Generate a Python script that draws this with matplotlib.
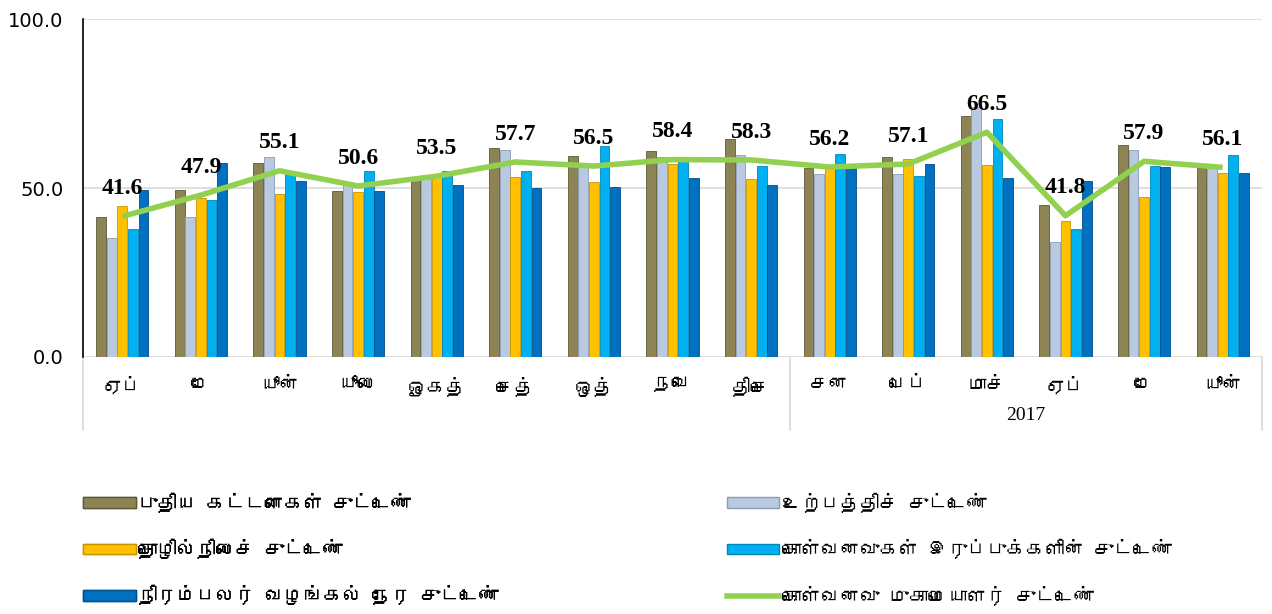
import matplotlib
matplotlib.use("Agg")
import matplotlib.pyplot as plt
from matplotlib import font_manager
from matplotlib.ft2font import FT2Font
from matplotlib.lines import Line2D
from matplotlib.patches import Patch
import numpy as np

months = ["ஏப்", "மே", "யூன்", "யூலை", "ஓகத்", "செத்", "ஒத்", "நவெ", "திசெ",
          "சன", "பெப்", "மாச்", "ஏப்", "மே", "யூன்"]
year_label = "2017"

new_orders = [41.5, 49.4, 57.3, 49.2, 53.3, 61.9, 59.4, 60.9, 64.4, 55.8, 59.3, 71.3, 44.9, 62.7, 55.8]
output = [35.1, 41.3, 59.1, 51.4, 53.3, 61.2, 57.3, 59.3, 59.7, 54.1, 54.0, 74.1, 34.1, 61.2, 55.8]
employment = [44.8, 46.9, 48.2, 48.7, 54.2, 53.3, 51.9, 57.1, 52.8, 55.8, 58.5, 56.7, 40.2, 47.2, 54.3]
stocks = [37.8, 46.4, 54.3, 55.0, 55.0, 55.0, 62.4, 59.0, 56.5, 60.0, 53.6, 70.4, 37.8, 56.5, 59.8]
delivery = [49.4, 57.5, 52.1, 49.2, 50.9, 49.9, 50.4, 52.9, 50.8, 55.8, 57.0, 52.9, 52.0, 56.1, 54.3]
pmi = [41.6, 47.9, 55.1, 50.6, 53.5, 57.7, 56.5, 58.4, 58.3, 56.2, 57.1, 66.5, 41.8, 57.9, 56.1]

bar_names = ["புதிய கட்டளைகள் சுட்டெண்", "உற்பத்திச் சுட்டெண்", "தொழில்நிலைச் சுட்டெண்",
             "கொள்வனவுகள் இருப்புக்களின் சுட்டெண்", "நிரம்பலர் வழங்கல் நேர சுட்டெண்"]
line_name = "கொள்வனவு முகாமையாளர் சுட்டெண்"
bar_colors = ["#8C8455", "#B9C9DF", "#FFC000", "#00B0F0", "#0070C0"]
edge_colors = ["#5E5836", "#8A9BB5", "#C99400", "#0087BA", "#004E8A"]
line_color = "#92D050"

# find a font that has Tamil glyphs
tamil_fonts = []
for f in font_manager.fontManager.ttflist:
    try:
        cmap = FT2Font(f.fname).get_charmap()
    except Exception:
        continue
    if 0x0BAA in cmap and 0x0BCD in cmap and f.name not in tamil_fonts:
        tamil_fonts.append(f.name)
tam = tamil_fonts[:1] + ["DejaVu Sans"]

fig = plt.figure(figsize=(12.72, 6.14), dpi=100)
ax = fig.add_axes([0.0653, 0.4186, 0.9268, 0.5504])

x = np.arange(len(months))
w = 0.135
series = [new_orders, output, employment, stocks, delivery]
for i, vals in enumerate(series):
    ax.bar(x + (i - 2) * w, vals, w * 0.92, color=bar_colors[i],
           edgecolor=edge_colors[i], linewidth=0.6, zorder=2)

ax.plot(x, pmi, color=line_color, linewidth=4, zorder=3, solid_capstyle="butt")
for xi, v in zip(x, pmi):
    ax.annotate(f"{v:.1f}", (xi, v), xytext=(0, 20), textcoords="offset points",
                ha="center", va="center", fontsize=17, fontweight="bold",
                family="Liberation Serif", zorder=4)

ax.set_xlim(-0.5, len(months) - 0.5)
ax.set_ylim(0, 100)
ax.set_yticks([0, 50, 100])
ax.set_yticklabels(["0.0", "50.0", "100.0"], fontsize=14, family="DejaVu Sans")
ax.yaxis.grid(True, color="#D9D9D9", linewidth=1.2, zorder=0)
ax.set_axisbelow(True)
for s in ["top", "right", "bottom"]:
    ax.spines[s].set_visible(False)
ax.spines["left"].set_color("black")
ax.spines["left"].set_linewidth(1.2)
ax.tick_params(axis="y", length=0, pad=14)
ax.tick_params(axis="x", length=0, pad=14)
ax.set_xticks(x)
ax.set_xticklabels(months, fontsize=14, family=tam)

# second level category separators and year
trans = ax.get_xaxis_transform()
for xs in [-0.5, 8.5, len(months) - 0.5]:
    ax.plot([xs, xs], [0, -0.215], transform=trans, color="#D9D9D9",
            linewidth=1.2, clip_on=False)
ax.text(11.5, -0.172, year_label, transform=trans, ha="center", va="center",
        fontsize=14, family="Liberation Serif")

handles = [Patch(facecolor=c, edgecolor=e) for c, e in zip(bar_colors, edge_colors)]
handles.append(Line2D([0], [0], color=line_color, linewidth=4))
labels = bar_names + [line_name]

leg_kw = dict(loc="upper left", frameon=False, prop={"family": tam, "size": 14},
              handlelength=2.7, handleheight=0.45, handletextpad=0.15,
              labelspacing=1.35, borderpad=0, borderaxespad=0)
left_idx = [0, 2, 4]
right_idx = [1, 3, 5]
leg1 = fig.legend([handles[i] for i in left_idx], [labels[i] for i in left_idx],
                  bbox_to_anchor=(0.0653, 0.198), **leg_kw)
fig.add_artist(leg1)
fig.legend([handles[i] for i in right_idx], [labels[i] for i in right_idx],
           bbox_to_anchor=(0.5715, 0.198), **leg_kw)

fig.savefig("out.png", dpi=100)
